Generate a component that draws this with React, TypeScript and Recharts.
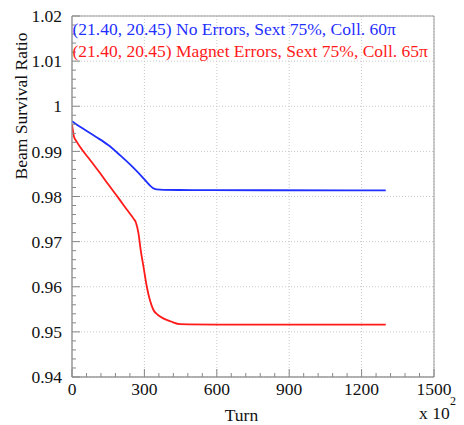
import { LineChart, Line, XAxis, YAxis, CartesianGrid, ReferenceArea } from "recharts";

// turn axis is in units of 10^2 turns
const xTicks = [0, 300, 600, 900, 1200, 1500];
const yTicks = [0.94, 0.95, 0.96, 0.97, 0.98, 0.99, 1, 1.01, 1.02];
const xMinorTicks = Array.from({ length: 26 }, (_, i) => i * 60);
const yMinorTicks = Array.from({ length: 41 }, (_, i) => Math.round((0.94 + i * 0.002) * 1000) / 1000);

const noErrTurns = [0, 10, 50, 100, 150, 200, 250, 300, 320, 335, 350, 380, 500, 800, 1300];
const noErrRatio = [0.9967, 0.9963, 0.9949, 0.9932, 0.9914, 0.9891, 0.9866, 0.9838, 0.9826, 0.9819, 0.9816, 0.98148, 0.98142, 0.98138, 0.98135];

const magErrTurns = [0, 4, 8, 20, 33, 75, 116, 150, 192, 227, 255, 265, 275, 285, 296, 310, 323, 337, 355, 378, 410, 448, 600, 1000, 1300];
const magErrRatio = [0.996, 0.9945, 0.9933, 0.9921, 0.991, 0.9881, 0.9852, 0.9827, 0.9797, 0.9771, 0.9751, 0.9742, 0.972, 0.968, 0.9645, 0.96, 0.957, 0.9549, 0.9538, 0.953, 0.9523, 0.9517, 0.95162, 0.9516, 0.9516];

const noErrData = noErrTurns.map((t, i) => ({ turn: t, v: noErrRatio[i] }));
const magErrData = magErrTurns.map((t, i) => ({ turn: t, v: magErrRatio[i] }));

const serif = { fontFamily: "Liberation Serif" };
const AXIS = "#999";
const TICKC = "#888";
const BLUE = "#1f2fff";
const RED = "#ff1a1a";
const TICK_FS = 17.5;

const isMajorX = (v: number) => xTicks.includes(v);
const isMajorY = (v: number) => yTicks.some((t) => Math.abs(t - v) < 1e-6);
const fmtY = (v: number) => String(Number(v.toFixed(2)));

// label + inward tick for the bottom axis (text y sits 6px below the axis)
const XTick = (props: any) => {
  const { x, y, payload } = props;
  const v = payload.value;
  const major = isMajorX(v);
  const axisY = Number(y) - 6;
  return (
    <g>
      <line x1={x} x2={x} y1={axisY} y2={axisY - (major ? 8 : 4)} stroke={TICKC} />
      {major && (
        <text x={x} y={y} dy="0.71em" textAnchor="middle" fontSize={TICK_FS} style={serif} fill="#111">
          {v}
        </text>
      )}
    </g>
  );
};

// label + inward tick for the left axis (text x sits 10px left of the axis)
const YTick = (props: any) => {
  const { x, y, payload } = props;
  const v = payload.value;
  const major = isMajorY(v);
  const axisX = Number(x) + 10;
  return (
    <g>
      <line x1={axisX} x2={axisX + (major ? 8 : 4)} y1={y} y2={y} stroke={TICKC} />
      {major && (
        <text x={x} y={y} dy="0.355em" textAnchor="end" fontSize={TICK_FS} style={serif} fill="#111">
          {fmtY(v)}
        </text>
      )}
    </g>
  );
};

export default function App() {
  return (
    <div style={{ position: "absolute", left: 0, top: 0, width: 464, height: 425, background: "#fff" }}>
      <LineChart width={464} height={425} margin={{ top: 16, right: 30, bottom: 0, left: 0 }}>
        <CartesianGrid stroke="#c8c8c8" strokeDasharray="1 2" verticalValues={xTicks} horizontalValues={yTicks} />
        <ReferenceArea x1={0} x2={1500} y1={0.94} y2={1.02} fill="none" fillOpacity={0} stroke={AXIS} strokeWidth={1} ifOverflow="visible" />
        <Line data={noErrData} dataKey="v" type="monotone" stroke={BLUE} strokeWidth={1.8} dot={false} isAnimationActive={false} />
        <Line data={magErrData} dataKey="v" type="monotone" stroke={RED} strokeWidth={1.8} dot={false} isAnimationActive={false} />
        <XAxis
          dataKey="turn"
          type="number"
          domain={[0, 1500]}
          ticks={xMinorTicks}
          interval={0}
          allowDataOverflow
          height={48}
          tickLine={false}
          tickSize={0}
          tickMargin={6}
          axisLine={{ stroke: AXIS }}
          tick={XTick}
        />
        <YAxis
          type="number"
          domain={[0.94, 1.02]}
          ticks={yMinorTicks}
          interval={0}
          allowDataOverflow
          width={72}
          tickLine={false}
          tickSize={0}
          tickMargin={10}
          axisLine={{ stroke: AXIS }}
          tick={YTick}
        />
      </LineChart>
      <svg width={464} height={425} style={{ position: "absolute", left: 0, top: 0, pointerEvents: "none" }}>
        <text x={72.5} y={35} fontSize={17.5} fill={BLUE} style={serif}>(21.40, 20.45) No Errors, Sext 75%, Coll. 60π</text>
        <text x={72.5} y={57.3} fontSize={17.5} fill={RED} style={serif}>(21.40, 20.45) Magnet Errors, Sext 75%, Coll. 65π</text>
        <text transform="translate(26.5,106) rotate(-90)" textAnchor="middle" fontSize={17.5} fill="#111" style={serif}>Beam Survival Ratio</text>
        <text x={241.5} y={421} textAnchor="middle" fontSize={17.5} fill="#111" style={serif}>Turn</text>
        <text x={419} y={419} fontSize={17.5} fill="#111" style={serif}>x 10</text>
        <text x={450} y={405} fontSize={12} fill="#111" style={serif}>2</text>
      </svg>
    </div>
  );
}
